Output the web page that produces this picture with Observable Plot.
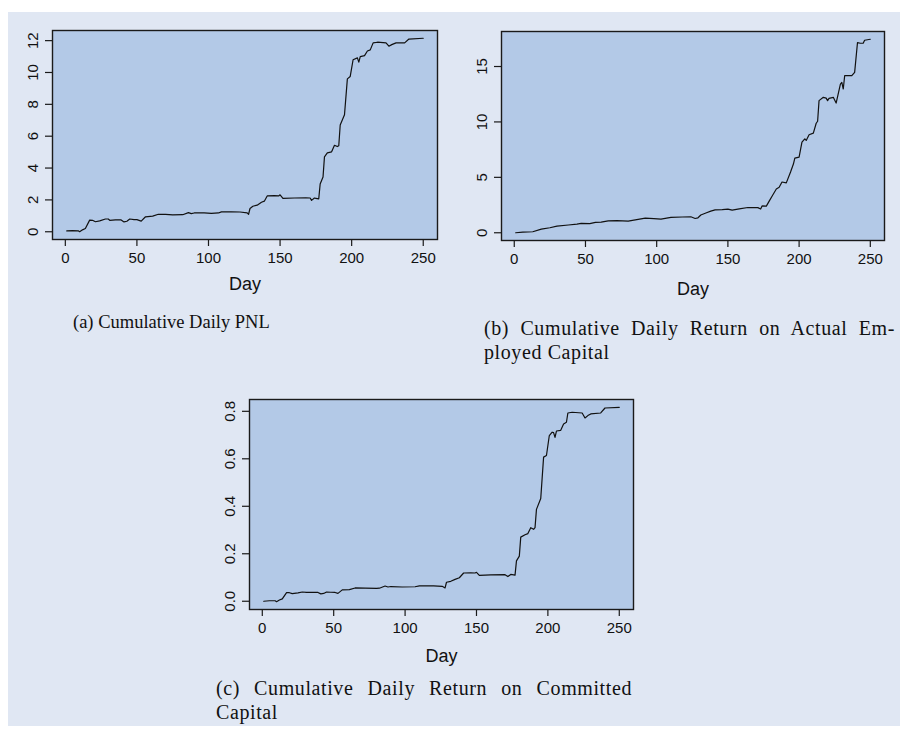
<!DOCTYPE html>
<html><head><meta charset="utf-8">
<script src="https://cdn.jsdelivr.net/npm/d3@7"></script>
<script src="https://cdn.jsdelivr.net/npm/@observablehq/plot@0.6"></script>
<style>
html,body{margin:0;padding:0;background:#fff;}
#fig{position:relative;width:900px;height:731px;overflow:hidden;background:#fff;}
#bg{position:absolute;left:8px;top:12px;width:892px;height:714px;background:#e0e7f3;}
.panel{position:absolute;}
.panel svg{overflow:visible;}
svg.panel text{font-family:"Liberation Sans",Arial,Helvetica,sans-serif !important;}
.cap{position:absolute;font-family:"Liberation Serif","Times New Roman",serif;font-size:20px;line-height:24px;color:#111;white-space:nowrap;letter-spacing:0.6px;}
.just{text-align:justify;text-align-last:justify;white-space:normal;}
</style></head>
<body>
<div id="fig"><div id="bg"></div></div>
<script>
// ---- data ----
const xTicks = [0, 50, 100, 150, 200, 250];

const pnlDay = [1,5,9,10,12,14,17,19,21,24,28,30,31,35,39,41,43,45,48,50,53,56,61,65,70,75,82,86,88,90,97,102,107,109,116,122,127,128,129,131,134,137,139,141,146,149,150,152,160,168,171,172,174,175,177,178,180,181,183,186,188,190,191,192,195,197,199,201,204,205,206,209,211,213,215,218,224,226,228,231,237,240,250];
const pnlValue = [0.05,0.07,0.06,0.0,0.12,0.2,0.73,0.72,0.63,0.68,0.8,0.8,0.72,0.74,0.74,0.62,0.66,0.8,0.76,0.76,0.67,0.94,0.98,1.1,1.09,1.06,1.07,1.2,1.14,1.18,1.18,1.16,1.18,1.25,1.25,1.24,1.19,1.1,1.46,1.6,1.67,1.85,1.92,2.25,2.27,2.25,2.32,2.1,2.12,2.13,2.12,1.97,2.12,2.1,2.06,3.0,3.44,4.7,4.95,5.02,5.43,5.35,5.4,6.7,7.35,9.6,9.75,10.8,10.92,10.65,11.0,11.06,11.35,11.42,11.86,11.9,11.86,11.65,11.75,11.86,11.86,12.1,12.15];
const pnlTicks = [0, 2, 4, 6, 8, 10, 12];

const empDay = [1,6,13,19,25,30,38,44,47,53,57,61,66,72,80,86,92,98,103,110,118,124,127,129,131,135,138,141,146,150,153,158,164,171,173,174,177,179,181,184,186,188,191,194,196,197,200,202,204,205,207,210,212,213,214,217,219,220,221,224,226,229,230,231,232,237,239,241,243,245,246,250];
const empValue = [0.0,0.05,0.09,0.33,0.45,0.6,0.7,0.78,0.84,0.82,0.93,0.96,1.08,1.1,1.05,1.18,1.32,1.27,1.23,1.38,1.42,1.44,1.29,1.35,1.6,1.8,1.95,2.06,2.08,2.13,2.04,2.15,2.28,2.27,2.14,2.42,2.4,2.85,3.3,3.95,4.1,4.58,4.5,5.48,6.2,6.74,6.83,8.18,8.48,8.33,8.84,8.99,9.88,10.06,11.92,12.22,12.15,11.92,12.13,12.22,11.7,13.42,13.57,12.97,14.17,14.17,14.47,17.16,17.1,17.1,17.37,17.46];
const empTicks = [0, 5, 10, 15];

const comDay = [1,5,9,10,12,14,17,19,21,25,28,31,36,39,41,43,45,48,51,53,56,61,65,72,80,82,86,88,90,98,107,110,120,126,128,129,132,135,138,141,146,149,150,152,160,170,172,174,177,178,180,181,184,186,188,190,191,192,195,197,199,201,203,204,205,206,209,211,213,214,217,224,226,228,230,237,240,250];
const comValue = [0.0,0.002,0.002,-0.002,0.005,0.01,0.036,0.036,0.032,0.035,0.039,0.037,0.038,0.037,0.031,0.033,0.039,0.038,0.037,0.033,0.048,0.049,0.056,0.055,0.054,0.055,0.064,0.06,0.062,0.06,0.061,0.065,0.065,0.063,0.056,0.08,0.084,0.092,0.099,0.119,0.12,0.119,0.122,0.109,0.111,0.112,0.104,0.113,0.11,0.17,0.19,0.27,0.28,0.285,0.31,0.303,0.31,0.387,0.433,0.607,0.614,0.698,0.712,0.71,0.69,0.717,0.72,0.747,0.754,0.793,0.796,0.793,0.772,0.782,0.789,0.793,0.814,0.817];
const comTicks = [0, 0.2, 0.4, 0.6, 0.8];

const xLabel = "Day";
const captionA = "(a) Cumulative Daily PNL";
const captionB1 = "(b) Cumulative Daily Return on Actual Em-";
const captionB2 = "ployed Capital";
const captionC1 = "(c) Cumulative Daily Return on Committed";
const captionC2 = "Capital";

// ---- helpers ----
const SANS = "Liberation Sans, Arial, Helvetica, sans-serif";
function rDomain(vals) { // R-style 4% expansion
  const lo = d3.min(vals), hi = d3.max(vals), r = hi - lo;
  return [lo - 0.04 * r, hi + 0.04 * r];
}

function panel({days, vals, yTicks, fmt, left, top, ml, mt, w, h, mr, mb, labelDy}) {
  const data = days.map((d, i) => ({day: d, v: vals[i]}));
  const chart = Plot.plot({
    width: ml + w + mr, height: mt + h + mb,
    marginLeft: ml, marginTop: mt, marginRight: mr, marginBottom: mb,
    style: "background: transparent; overflow: visible; color: #111; font-family: " + SANS + "; font-size: 15px;",
    x: {domain: rDomain(days)},
    y: {domain: rDomain(vals)},
    marks: [
      Plot.frame({fill: "#b3c9e7", stroke: "none"}),
      Plot.line(data, {x: "day", y: "v", stroke: "#111", strokeWidth: 1.2}),
      Plot.frame({stroke: "#1a1a1a", strokeWidth: 1.4}),
      Plot.axisX({ticks: xTicks, tickSize: 7, tickPadding: 6, label: null, stroke: "#1a1a1a", strokeWidth: 1.2,
        fontSize: 15, fontFamily: SANS, fill: "#111"}),
      Plot.axisY({ticks: yTicks, tickSize: 7, tickPadding: 8, tickRotate: -90, tickFormat: fmt, label: null,
        stroke: "#1a1a1a", strokeWidth: 1.2, fontSize: 15, fontFamily: SANS, fill: "#111"}),
      Plot.text([xLabel], {text: d => d, frameAnchor: "bottom", dy: labelDy, fontSize: 18, fontFamily: SANS, fill: "#111"})
    ]
  });
  chart.classList.add("panel");
  chart.style.left = left + "px";
  chart.style.top = top + "px";
  chart.style.position = "absolute";
  return chart;
}

const fig = document.getElementById("fig");
fig.appendChild(panel({days: pnlDay, vals: pnlValue, yTicks: pnlTicks, fmt: d3.format("d"),
  left: 0, top: 0, ml: 52, mt: 30, w: 385, h: 209, mr: 13, mb: 66, labelDy: 50}));
fig.appendChild(panel({days: empDay, vals: empValue, yTicks: empTicks, fmt: d3.format("d"),
  left: 450, top: 0, ml: 51, mt: 31, w: 383, h: 209, mr: 12, mb: 66, labelDy: 54}));
fig.appendChild(panel({days: comDay, vals: comValue, yTicks: comTicks, fmt: d3.format(".1f"),
  left: 200, top: 370, ml: 49, mt: 29, w: 384, h: 210, mr: 12, mb: 66, labelDy: 52}));

function cap(text, left, top, width, just, extra) {
  const d = document.createElement("div");
  d.className = "cap" + (just ? " just" : "");
  d.textContent = text;
  d.style.left = left + "px";
  d.style.top = top + "px";
  if (width) d.style.width = width + "px";
  if (extra) Object.assign(d.style, extra);
  fig.appendChild(d);
}
cap(captionA, 73, 310, null, false, {fontSize: "18.5px", letterSpacing: "0px"});
cap(captionB1, 484, 316, 411, true);
cap(captionB2, 484, 340, null, false);
cap(captionC1, 216, 676, 416, true);
cap(captionC2, 216, 700, null, false);
</script>
</body></html>
